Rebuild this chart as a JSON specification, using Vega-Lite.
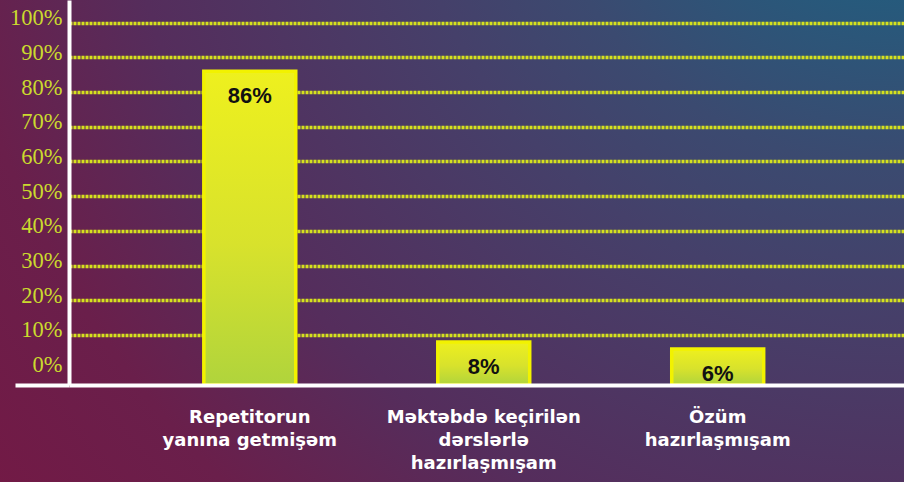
{
  "$schema": "https://vega.github.io/schema/vega-lite/v6.json",
  "width": 904,
  "height": 482,
  "autosize": "none",
  "padding": 0,
  "background": "#55285a",
  "config": {
    "view": {
      "stroke": null,
      "fill": {
        "gradient": "radial",
        "x1": 1, "y1": 0, "r1": 0,
        "x2": 1, "y2": 0, "r2": 1.45,
        "stops": [
          {"offset": 0, "color": "#1a6687"},
          {"offset": 0.16, "color": "#265a7c"},
          {"offset": 0.29, "color": "#3b4a70"},
          {"offset": 0.39, "color": "#45406a"},
          {"offset": 0.6, "color": "#552d5c"},
          {"offset": 0.74, "color": "#6a1f4b"},
          {"offset": 1, "color": "#7a1540"}
        ]
      }
    }
  },
  "data": {
    "values": [
      {"answer": "Repetitorun yanına getmişəm", "pct": 86, "label": "86%"},
      {"answer": "Məktəbdə keçirilən dərslərlə hazırlaşmışam", "pct": 8, "label": "8%"},
      {"answer": "Özüm hazırlaşmışam", "pct": 6, "label": "6%"}
    ]
  },
  "encoding": {
    "x": {
      "field": "answer",
      "type": "nominal",
      "sort": null,
      "scale": {"range": [69, 904], "paddingInner": 0.607, "paddingOuter": 0.588, "align": 0.49},
      "axis": {
        "orient": "bottom",
        "offset": -97,
        "title": null,
        "grid": false,
        "domain": true,
        "domainColor": "#ffffff",
        "domainWidth": 4,
        "ticks": false,
        "labelPadding": 23,
        "labelFont": "DejaVu Sans",
        "labelFontWeight": "bold",
        "labelFontSize": 18,
        "labelColor": "#ffffff",
        "labelLineHeight": 23,
        "labelAngle": 0,
        "labelLimit": 400,
        "labelExpr": "datum.value == 'Repetitorun yanına getmişəm' ? ['Repetitorun', 'yanına getmişəm'] : (datum.value == 'Özüm hazırlaşmışam' ? ['Özüm', 'hazırlaşmışam'] : ['Məktəbdə keçirilən', 'dərslərlə', 'hazırlaşmışam'])",
        "zindex": 1
      }
    },
    "y": {
      "field": "pct",
      "type": "quantitative",
      "scale": {"domain": [-4.41, 106.54], "range": [385, 0], "nice": false, "zero": false},
      "axis": {
        "orient": "left",
        "offset": -69,
        "title": null,
        "values": [-4.41, 0, 10, 20, 30, 40, 50, 60, 70, 80, 90, 100],
        "labelExpr": "datum.value < 0 ? '' : datum.value + '%'",
        "labelFont": "Liberation Serif",
        "labelFontSize": 22.5,
        "labelColor": "#cbda2e",
        "labelPadding": -47,
        "labelOffset": -5,
        "labelOverlap": false,
        "domain": true,
        "domainColor": "#ffffff",
        "domainWidth": 4,
        "ticks": true,
        "tickSize": 54,
        "tickWidth": 4,
        "tickColor": {"condition": {"test": "datum.value < 0", "value": "#ffffff"}, "value": "transparent"},
        "grid": true,
        "gridColor": "#d6e21e",
        "gridWidth": 3.5,
        "gridDash": [3, 1],
        "gridOpacity": {"condition": {"test": "datum.value <= 0", "value": 0}, "value": 1}
      }
    }
  },
  "layer": [
    {
      "mark": {
        "type": "bar",
        "fill": {
          "gradient": "linear",
          "x1": 0, "y1": 0, "x2": 0, "y2": 1,
          "stops": [
            {"offset": 0, "color": "#eef01e"},
            {"offset": 0.55, "color": "#d8e22c"},
            {"offset": 1, "color": "#b0d43c"}
          ]
        },
        "stroke": "#f2f200",
        "strokeWidth": 3.5
      },
      "encoding": {"y2": {"datum": -4.41}}
    },
    {
      "mark": {
        "type": "text",
        "dy": 25,
        "baseline": "middle",
        "align": "center",
        "font": "Liberation Sans",
        "fontWeight": "bold",
        "fontSize": 22,
        "fill": "#111111"
      },
      "encoding": {"text": {"field": "label", "type": "nominal"}}
    }
  ]
}
